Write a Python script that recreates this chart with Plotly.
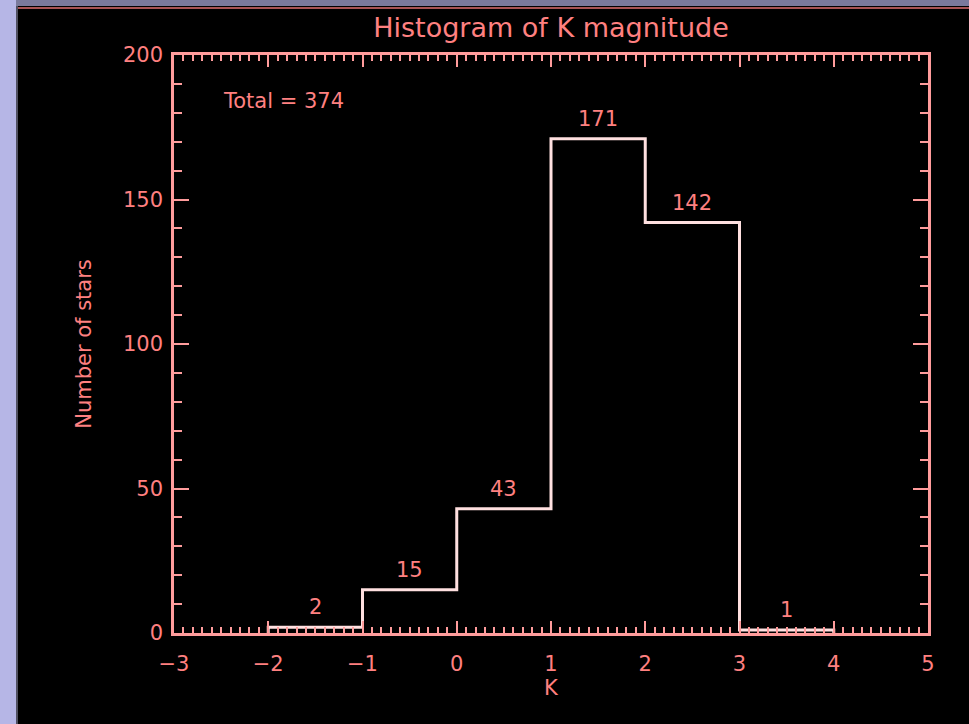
import plotly.graph_objects as go

# Histogram of K magnitude: bin edges and star counts per bin
bin_edges = [-2, -1, 0, 1, 2, 3, 4]
counts = [2, 15, 43, 171, 142, 1]
total_label = "Total = 374"
x_ticks = [-3, -2, -1, 0, 1, 2, 3, 4, 5]
y_ticks = [0, 50, 100, 150, 200]

TEXT = "#ff8080"
AXIS = "#ff9c9c"
STEP = "#ffe0e0"
FONT = "DejaVu Sans"

# outline of the histogram as a stepped line (starts and ends on zero)
xs = [bin_edges[0]] + bin_edges
ys = [0] + counts + [0]

fig = go.Figure()
fig.add_trace(go.Scatter(
    x=xs, y=ys, mode="lines", line=dict(color=STEP, width=3, shape="hv"),
    hoverinfo="skip", showlegend=False,
))

# count labels above each bin
centers = [(a + b) / 2 for a, b in zip(bin_edges[:-1], bin_edges[1:])]
for cx, c in zip(centers, counts):
    fig.add_annotation(x=cx, y=c, text=str(c), showarrow=False,
                       yanchor="bottom", yshift=6,
                       font=dict(family=FONT, size=21, color=TEXT))

fig.add_annotation(x=-2.5, y=184, text=total_label, showarrow=False,
                   xanchor="left", yanchor="middle",
                   font=dict(family=FONT, size=21, color=TEXT))

# window frame around the plot
W, H = 969, 724
L, R, T, B = 174, 41, 55, 91
pw, ph = W - L - R, H - T - B
def px(xp):
    return (xp - L) / pw
def py(yp):
    return (H - B - yp) / ph
fig.add_shape(type="rect", xref="paper", yref="paper",
              x0=px(0), x1=px(16), y0=py(H), y1=py(0),
              fillcolor="#b6b6e6", line_width=0, layer="above")
fig.add_shape(type="rect", xref="paper", yref="paper",
              x0=px(16), x1=px(W), y0=py(6), y1=py(0),
              fillcolor="#7a7a9c", line_width=0, layer="above")
fig.add_shape(type="line", xref="paper", yref="paper",
              x0=px(16), x1=px(W), y0=py(8), y1=py(8),
              line=dict(color="#e07070", width=1.5), layer="above")
fig.add_shape(type="line", xref="paper", yref="paper",
              x0=px(17), x1=px(17), y0=py(H), y1=py(6),
              line=dict(color="#505060", width=2), layer="above")

axis_common = dict(
    showline=True, mirror="ticks", linecolor=AXIS, linewidth=2.5,
    ticks="inside", tickcolor=AXIS, tickwidth=2,
    showgrid=False, zeroline=False,
    tickfont=dict(family=FONT, size=21, color=TEXT),
)

fig.update_layout(
    width=W, height=H,
    margin=dict(l=L, r=R, t=T, b=B),
    paper_bgcolor="black", plot_bgcolor="black",
    title=dict(text="Histogram of K magnitude", x=(L + pw / 2) / W, xanchor="center",
               y=1 - 28 / H, yanchor="middle",
               font=dict(family=FONT, size=27, color=TEXT)),
    xaxis=dict(range=[-3, 5], tickvals=x_ticks, ticklen=12,
               minor=dict(dtick=0.1, ticks="inside", ticklen=6, tickcolor=AXIS, tickwidth=1.5),
               title=dict(text="K", font=dict(family=FONT, size=21, color=TEXT), standoff=6),
               ticklabelstandoff=10,
               **axis_common),
    yaxis=dict(range=[0, 200], tickvals=y_ticks, ticklen=15,
               minor=dict(dtick=10, ticks="inside", ticklen=8, tickcolor=AXIS, tickwidth=1.5),
               title=dict(text="Number of stars", font=dict(family=FONT, size=21, color=TEXT), standoff=26),
               ticklabelstandoff=4,
               **axis_common),
)

fig.write_html("out.html")
